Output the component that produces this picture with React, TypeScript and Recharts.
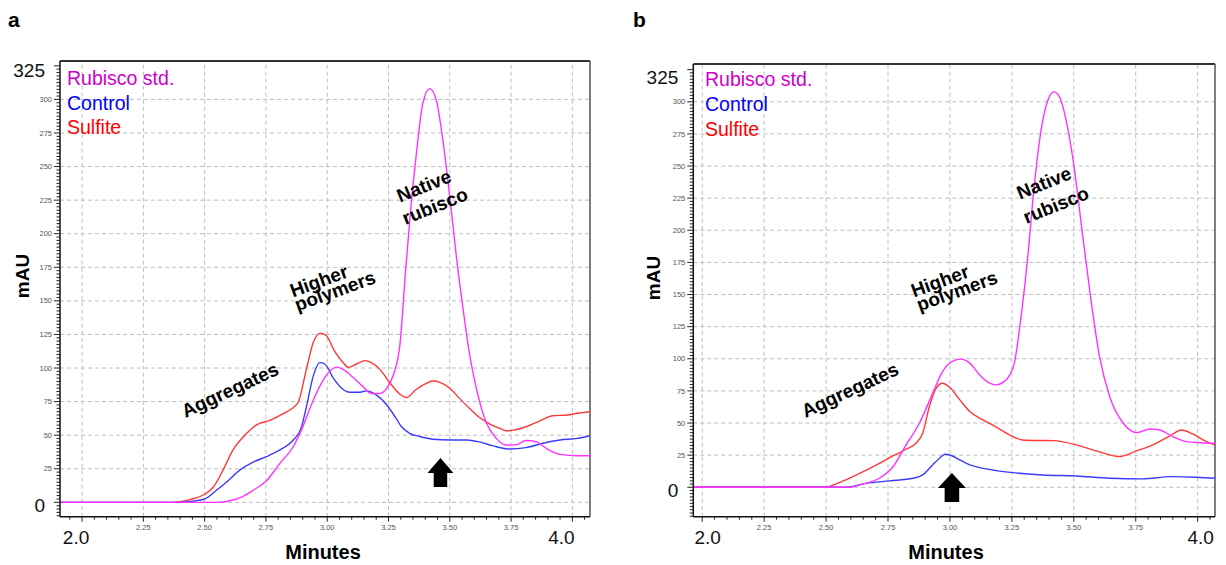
import React from 'react';
import { LineChart, Line, XAxis, YAxis, ReferenceLine, ReferenceDot } from 'recharts';

const FONT = "'Liberation Sans', Arial, Helvetica, sans-serif";

// ---------- Panel a ----------
const aRubiscoX = [1.91, 2.55, 2.6, 2.657, 2.698, 2.752, 2.807, 2.86, 2.9, 2.943, 2.984, 3.01, 3.038, 3.065, 3.106, 3.147, 3.18, 3.215, 3.243, 3.27, 3.297, 3.32, 3.34, 3.364, 3.39, 3.418, 3.445, 3.47, 3.5, 3.527, 3.555, 3.58, 3.61, 3.65, 3.69, 3.73, 3.773, 3.81, 3.855, 3.895, 3.95, 4.02, 4.072];
const aRubiscoY = [0, 0, 1, 4.5, 9, 16, 29, 41, 56, 76, 91, 97.5, 100.7, 99, 93, 86, 81, 81, 85, 95, 118, 173, 217, 260, 297, 308, 299.5, 272, 227.5, 183, 143, 111, 83.6, 58.8, 47.6, 42.7, 43, 46, 45, 40, 35.7, 34.7, 34.7];

const aSulfiteX = [1.91, 2.36, 2.4, 2.44, 2.5, 2.534, 2.575, 2.616, 2.67, 2.71, 2.766, 2.82, 2.88, 2.915, 2.943, 2.973, 2.997, 3.03, 3.065, 3.086, 3.12, 3.154, 3.18, 3.215, 3.256, 3.297, 3.324, 3.36, 3.398, 3.43, 3.46, 3.5, 3.54, 3.58, 3.62, 3.664, 3.705, 3.73, 3.76, 3.81, 3.87, 3.92, 3.98, 4.02, 4.072];
const aSulfiteY = [0, 0, 0.5, 2, 6, 11, 24, 39, 51, 57.5, 61, 66, 74, 99, 119, 126, 124, 112.5, 104, 100.5, 103, 105.5, 104, 99, 89, 80.5, 78, 83.6, 88, 90.3, 89.3, 85, 77.4, 70, 63.3, 58.3, 55, 53.3, 53.8, 56.3, 60.8, 64.5, 65, 66.3, 67.5];

const aControlX = [1.91, 2.4, 2.45, 2.5, 2.548, 2.589, 2.643, 2.698, 2.752, 2.807, 2.86, 2.895, 2.915, 2.943, 2.97, 2.99, 3.025, 3.059, 3.093, 3.134, 3.16, 3.2, 3.243, 3.283, 3.3, 3.336, 3.377, 3.43, 3.5, 3.57, 3.62, 3.677, 3.745, 3.81, 3.88, 3.95, 4.02, 4.072];
const aControlY = [0, 0, 0.8, 2.5, 9, 15, 24, 30, 34, 39, 46, 56, 71, 94, 104, 103, 92.5, 85, 82, 82, 83, 80, 72.5, 62, 57, 51.4, 49, 47, 46.4, 46.4, 45, 42, 39.7, 40.7, 44, 46.4, 47.6, 49.6];

// ---------- Panel b ----------
const bRubiscoX = [1.964, 2.594, 2.648, 2.715, 2.77, 2.823, 2.877, 2.93, 2.97, 3.01, 3.045, 3.08, 3.12, 3.16, 3.186, 3.227, 3.26, 3.28, 3.313, 3.34, 3.368, 3.395, 3.42, 3.442, 3.469, 3.503, 3.53, 3.564, 3.604, 3.645, 3.7, 3.753, 3.807, 3.847, 3.9, 3.955, 4.01, 4.07];
const bRubiscoY = [0, 0, 2.6, 7, 16, 33, 50, 73, 90, 98, 99.7, 96.6, 87.5, 81, 79.7, 83.6, 96.6, 122, 177, 234, 278, 301, 307.7, 304, 285.7, 246.8, 205, 153.5, 101.6, 70.5, 49.8, 42.5, 45.4, 44.6, 39.4, 35.5, 34.7, 34.2];

const bSulfiteX = [1.964, 2.5, 2.54, 2.608, 2.69, 2.77, 2.823, 2.863, 2.89, 2.917, 2.944, 2.97, 2.998, 3.04, 3.08, 3.133, 3.187, 3.24, 3.293, 3.36, 3.415, 3.51, 3.59, 3.685, 3.753, 3.82, 3.888, 3.935, 3.98, 4.036, 4.07];
const bSulfiteY = [0, 0, 2.6, 8.3, 16, 24.4, 29.6, 34.3, 42, 62.9, 77, 81, 78, 68, 59, 52.5, 46.8, 40.8, 36.8, 36.4, 36.3, 33, 28.3, 23.9, 28.3, 33, 40, 44.6, 41.5, 35.5, 33];

const bControlX = [1.964, 2.58, 2.66, 2.756, 2.85, 2.89, 2.93, 2.958, 2.98, 3.005, 3.04, 3.08, 3.12, 3.187, 3.254, 3.374, 3.51, 3.645, 3.78, 3.888, 3.996, 4.07];
const bControlY = [0, 0, 3, 5, 7, 9.6, 17.4, 22.6, 25.7, 24.7, 21.3, 17.4, 15.3, 13, 11.4, 9.6, 8.8, 7, 6.5, 8.3, 7.8, 7];

// ---------- Axes ----------
const xMajorTicks = [2.0, 2.25, 2.5, 2.75, 3.0, 3.25, 3.5, 3.75, 4.0];
const xTickLabels = ['2.0', '2.25', '2.50', '2.75', '3.00', '3.25', '3.50', '3.75', '4.0'];
const xBigLabels = ['2.0', '4.0'];
const yMajorTicks = [0, 25, 50, 75, 100, 125, 150, 175, 200, 225, 250, 275, 300, 325];
const yTickLabels = ['0', '25', '50', '75', '100', '125', '150', '175', '200', '225', '250', '275', '300', '325'];
const yBigLabels = ['0', '325'];
const seriesNames = ['Rubisco std.', 'Control', 'Sulfite'];

const COLORS = {
  rubiscoLine: '#ff33ff',
  controlLine: '#3b3bff',
  sulfiteLine: '#ff3838',
  rubiscoText: '#cc00cc',
  controlText: '#0000ff',
  sulfiteText: '#ff0000',
  grid: '#bdbdbd',
};

const toPoints = (xs: number[], ys: number[]) => xs.map((x, i) => ({ x, y: ys[i] }));

function stepTicks(start: number, end: number, step: number, scale: number) {
  const out: number[] = [];
  const s = Math.round(start * scale);
  const e = Math.round(end * scale);
  const st = Math.round(step * scale);
  for (let i = s; i <= e; i += st) out.push(i / scale);
  return out;
}

const isMultiple = (v: number, m: number) => Math.abs(v / m - Math.round(v / m)) < 1e-6;

function makeXTick(bigDx: [number, number]) {
  return (props: any) => {
    const { x, y, payload } = props;
    const v = payload.value as number;
    const major = isMultiple(v, 0.25);
    const idx = xMajorTicks.findIndex((t) => Math.abs(t - v) < 1e-6);
    const label = idx >= 0 ? xTickLabels[idx] : null;
    const big = label !== null && xBigLabels.includes(label);
    return (
      <g>
        <line x1={x} x2={x} y1={y} y2={y + (major ? 5 : 3)} stroke="#222" strokeWidth={1} />
        {label !== null && !big && (
          <text x={x} y={y + 13} textAnchor="middle" fontSize={7.5} fill="#555" fontFamily={FONT}>
            {label}
          </text>
        )}
        {big && (
          <text x={x + (label === '2.0' ? bigDx[0] : bigDx[1])} y={y + 27} textAnchor="middle" fontSize={19} fill="#111" fontFamily={FONT}>
            {label}
          </text>
        )}
      </g>
    );
  };
}

function makeYTick(bigDy: [number, number]) {
  return (props: any) => {
    const { x, y, payload } = props;
    const v = payload.value as number;
    const major = isMultiple(v, 25);
    const idx = yMajorTicks.findIndex((t) => Math.abs(t - v) < 1e-6);
    const label = idx >= 0 ? yTickLabels[idx] : null;
    const big = label !== null && yBigLabels.includes(label);
    return (
      <g>
        <line x1={x - (major ? 6 : 3.5)} x2={x} y1={y} y2={y} stroke="#222" strokeWidth={1} />
        {label !== null && !big && (
          <text x={x - 8} y={y + 2.6} textAnchor="end" fontSize={7.5} fill="#555" fontFamily={FONT}>
            {label}
          </text>
        )}
        {big && (
          <text x={x - 15} y={y + (label === '0' ? bigDy[0] : bigDy[1])} textAnchor="end" fontSize={19} fill="#111" fontFamily={FONT}>
            {label}
          </text>
        )}
      </g>
    );
  };
}

const Arrow = (props: any) => {
  const { cx, cy, w } = props;
  const hw = w / 2;
  const sw = w * 0.26;
  const hh = 15;
  const total = 29;
  const d = `M ${cx} ${cy} L ${cx + hw} ${cy + hh} L ${cx + sw} ${cy + hh} L ${cx + sw} ${cy + total} L ${cx - sw} ${cy + total} L ${cx - sw} ${cy + hh} L ${cx - hw} ${cy + hh} Z`;
  return <path d={d} fill="#000" />;
};

type PanelProps = {
  left: number;
  width: number;
  margin: { top: number; right: number; bottom: number; left: number };
  xDomain: [number, number];
  yDomain: [number, number];
  rubisco: { x: number; y: number }[];
  control: { x: number; y: number }[];
  sulfite: { x: number; y: number }[];
  arrow: { x: number; y: number; w: number };
  xBigDx: [number, number];
  yBigDy: [number, number];
};

function Panel(p: PanelProps) {
  const xTicks = stepTicks(Math.ceil(p.xDomain[0] * 20) / 20, Math.floor(p.xDomain[1] * 20) / 20, 0.05, 100);
  const yTicks = stepTicks(Math.ceil(p.yDomain[0] / 2.5) * 2.5, 325, 2.5, 10);
  const gridY = yMajorTicks.filter((v) => v <= 300);
  return (
    <div style={{ position: 'absolute', left: p.left, top: 0 }}>
      <LineChart width={p.width} height={565} margin={p.margin}>
        <XAxis
          type="number"
          dataKey="x"
          domain={p.xDomain}
          allowDataOverflow
          ticks={xTicks}
          interval={0}
          height={1}
          tickSize={0}
          tickMargin={0}
          tickLine={false}
          tick={makeXTick(p.xBigDx)}
          axisLine={{ stroke: '#111', strokeWidth: 1.5 }}
        />
        <YAxis
          type="number"
          dataKey="y"
          domain={p.yDomain}
          allowDataOverflow
          ticks={yTicks}
          interval={0}
          width={1}
          tickSize={0}
          tickMargin={0}
          tickLine={false}
          tick={makeYTick(p.yBigDy)}
          axisLine={{ stroke: '#111', strokeWidth: 1.5 }}
        />
        {xMajorTicks.map((v) => (
          <ReferenceLine key={'gx' + v} x={v} stroke={COLORS.grid} strokeDasharray="4 3" strokeWidth={1} />
        ))}
        {gridY.map((v) => (
          <ReferenceLine key={'gy' + v} y={v} stroke={COLORS.grid} strokeDasharray="4 3" strokeWidth={1} />
        ))}
        <ReferenceLine y={p.yDomain[1]} stroke="#333" strokeWidth={2} ifOverflow="visible" />
        <ReferenceLine x={p.xDomain[1]} stroke="#555" strokeWidth={1.5} ifOverflow="visible" />
        <Line data={p.sulfite} dataKey="y" type="monotone" stroke={COLORS.sulfiteLine} strokeWidth={1.4} dot={false} activeDot={false} isAnimationActive={false} />
        <Line data={p.control} dataKey="y" type="monotone" stroke={COLORS.controlLine} strokeWidth={1.4} dot={false} activeDot={false} isAnimationActive={false} />
        <Line data={p.rubisco} dataKey="y" type="monotone" stroke={COLORS.rubiscoLine} strokeWidth={1.4} dot={false} activeDot={false} isAnimationActive={false} />
        <ReferenceDot x={p.arrow.x} y={p.arrow.y} r={0} ifOverflow="visible" shape={(sp: any) => <Arrow cx={sp.cx} cy={sp.cy} w={p.arrow.w} />} />
      </LineChart>
    </div>
  );
}

const Annot = ({ x, y, angle, text }: { x: number; y: number; angle: number; text: string }) => (
  <text x={x} y={y} textAnchor="middle" dominantBaseline="central" fontSize={19} fontWeight="bold" fontFamily={FONT} fill="#000" transform={`rotate(${angle} ${x} ${y})`}>
    {text}
  </text>
);

function Overlay() {
  const legend = (x: number, ys: number[]) => (
    <g fontFamily={FONT} fontSize={19.5}>
      <text x={x} y={ys[0]} fill={COLORS.rubiscoText}>{seriesNames[0]}</text>
      <text x={x} y={ys[1]} fill={COLORS.controlText}>{seriesNames[1]}</text>
      <text x={x} y={ys[2]} fill={COLORS.sulfiteText}>{seriesNames[2]}</text>
    </g>
  );
  return (
    <svg width={1226} height={565} style={{ position: 'absolute', left: 0, top: 0, pointerEvents: 'none' }}>
      <text x={8} y={27} fontSize={21} fontWeight="bold" fontFamily={FONT}>a</text>
      <text x={633} y={27} fontSize={21} fontWeight="bold" fontFamily={FONT}>b</text>
      {legend(67, [85, 110, 134])}
      {legend(705, [86, 111, 136])}
      <text x={22} y={276} fontSize={19} fontWeight="bold" fontFamily={FONT} textAnchor="middle" dominantBaseline="central" transform="rotate(-90 22 276)">mAU</text>
      <text x={653} y={278} fontSize={19} fontWeight="bold" fontFamily={FONT} textAnchor="middle" dominantBaseline="central" transform="rotate(-90 653 278)">mAU</text>
      <text x={323} y={552} fontSize={20} fontWeight="bold" fontFamily={FONT} textAnchor="middle" dominantBaseline="central">Minutes</text>
      <text x={946} y={552} fontSize={20} fontWeight="bold" fontFamily={FONT} textAnchor="middle" dominantBaseline="central">Minutes</text>

      <Annot x={230} y={390} angle={-25} text="Aggregates" />
      <Annot x={319} y={281} angle={-20} text="Higher" />
      <Annot x={335} y={291} angle={-20} text="polymers" />
      <Annot x={424} y={186} angle={-22} text="Native" />
      <Annot x={435} y={206} angle={-22} text="rubisco" />

      <Annot x={850} y={390} angle={-25} text="Aggregates" />
      <Annot x={940} y={281} angle={-20} text="Higher" />
      <Annot x={957} y={291} angle={-20} text="polymers" />
      <Annot x={1044} y={183} angle={-22} text="Native" />
      <Annot x={1056} y={205} angle={-22} text="rubisco" />
    </svg>
  );
}

export default function App() {
  return (
    <div style={{ position: 'absolute', left: 0, top: 0, width: 1226, height: 565, background: '#fff', overflow: 'hidden' }}>
      <Panel
        left={0}
        width={600}
        margin={{ top: 61, right: 10, bottom: 47.3, left: 59 }}
        xDomain={[1.91, 4.072]}
        yDomain={[-10.7, 328.6]}
        rubisco={toPoints(aRubiscoX, aRubiscoY)}
        control={toPoints(aControlX, aControlY)}
        sulfite={toPoints(aSulfiteX, aSulfiteY)}
        arrow={{ x: 3.462, y: 33, w: 26 }}
        xBigDx={[-6, -11]}
        yBigDy={[10, 11]}
      />
      <Panel
        left={620}
        width={606}
        margin={{ top: 64, right: 11, bottom: 47.3, left: 72.3 }}
        xDomain={[1.964, 4.07]}
        yDomain={[-22.9, 329.4]}
        rubisco={toPoints(bRubiscoX, bRubiscoY)}
        control={toPoints(bControlX, bControlY)}
        sulfite={toPoints(bSulfiteX, bSulfiteY)}
        arrow={{ x: 3.008, y: 11.1, w: 28 }}
        xBigDx={[5.5, 3]}
        yBigDy={[10, 14]}
      />
      <Overlay />
    </div>
  );
}
